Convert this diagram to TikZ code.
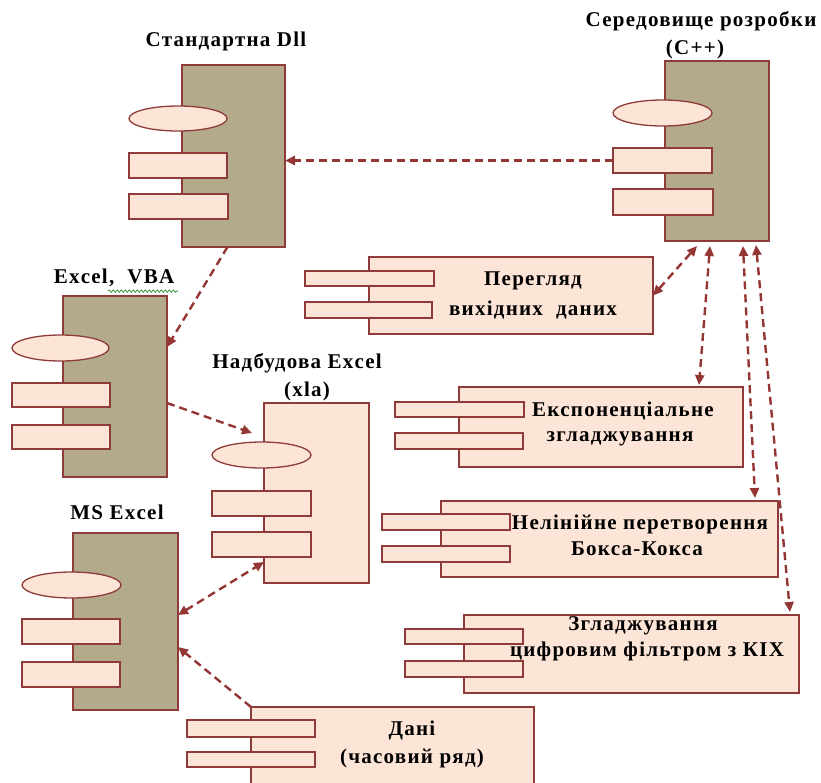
\documentclass[tikz,border=0pt]{standalone}
\usepackage{fontspec}
\setmainfont{Liberation Serif}
\usetikzlibrary{shapes.geometric,arrows.meta,decorations.pathmorphing}
\definecolor{edgec}{HTML}{8E3B3A}
\definecolor{olivef}{HTML}{B3A98B}
\definecolor{pinkf}{HTML}{FCE4D6}
\definecolor{arrc}{HTML}{943634}
\definecolor{spellc}{HTML}{3C9A3C}
\begin{document}
\begin{tikzpicture}[x=1pt,y=-1pt,
  body/.style={draw=edgec, line width=1.3pt, fill=olivef, inner sep=0pt, outer sep=0pt, rectangle},
  pbody/.style={body, fill=pinkf},
  port/.style={draw=edgec, line width=1.3pt, fill=pinkf, inner sep=0pt, outer sep=0pt, rectangle},
  eport/.style={port, ellipse},
  lbl/.style={font=\fontsize{21}{25}\selectfont\bfseries\addfontfeatures{LetterSpace=6}, inner sep=0pt, text=black},
  dep/.style={draw=arrc, line width=2.4pt, dash pattern=on 8pt off 5pt, -{Triangle[length=10pt,width=9pt]}},
  dep2/.style={dep, {Triangle[length=10pt,width=9pt]}-{Triangle[length=10pt,width=9pt]}},
]
\useasboundingbox (0,0) rectangle (821,782);

% Стандартна Dll
\node[body, minimum width=103pt, minimum height=182pt] (dll) at (233.5,156) {};
\node[eport, minimum width=98pt, minimum height=25pt] (dll-e) at (178,118.5) {};
\node[port, minimum width=98pt, minimum height=25pt] (dll-r1) at (178,165.5) {};
\node[port, minimum width=99pt, minimum height=25pt] (dll-r2) at (178.5,206.5) {};
\node[lbl] (dllT) at (226,41) {Стандартна Dll};

% Середовище розробки (C++)
\node[body, minimum width=104pt, minimum height=180pt] (cxx) at (717,151) {};
\node[eport, minimum width=99pt, minimum height=26pt] (cxx-e) at (662.5,113) {};
\node[port, minimum width=99pt, minimum height=25pt] (cxx-r1) at (662.5,160.5) {};
\node[port, minimum width=100pt, minimum height=26pt] (cxx-r2) at (663,202) {};
\node[lbl] (cxxT1) at (701,21) {Середовище розробки};
\node[lbl] (cxxT2) at (695,49) {(C++)};

% Excel, VBA
\node[body, minimum width=104pt, minimum height=181pt] (vba) at (115,386.5) {};
\node[eport, minimum width=97pt, minimum height=26pt] (vba-e) at (60.5,348) {};
\node[port, minimum width=98pt, minimum height=24pt] (vba-r1) at (61,395) {};
\node[port, minimum width=98pt, minimum height=24pt] (vba-r2) at (61,437) {};
\node[lbl] (vbaT) at (114,278) {Excel,\ \ VBA};
\draw[spellc, line width=0.8pt, decorate, decoration={snake, amplitude=1.2pt, segment length=4pt}] (vbaT.south) ++(-6,4) -- ++(70,0);

% Надбудова Excel (xla)
\node[pbody, minimum width=105pt, minimum height=180pt] (xla) at (316.5,493) {};
\node[eport, minimum width=99pt, minimum height=26pt] (xla-e) at (261.5,455) {};
\node[port, minimum width=99pt, minimum height=25pt] (xla-r1) at (261.5,503.5) {};
\node[port, minimum width=99pt, minimum height=25pt] (xla-r2) at (261.5,544.5) {};
\node[lbl] (xlaT1) at (297,363) {Надбудова Excel};
\node[lbl] (xlaT2) at (307,391) {(xla)};

% MS Excel
\node[body, minimum width=105pt, minimum height=177pt] (ms) at (125.5,621.5) {};
\node[eport, minimum width=99pt, minimum height=26pt] (ms-e) at (71.5,585) {};
\node[port, minimum width=98pt, minimum height=25pt] (ms-r1) at (71,631.5) {};
\node[port, minimum width=98pt, minimum height=25pt] (ms-r2) at (71,674.5) {};
\node[lbl] (msT) at (117,512) {MS Excel};

% Перегляд вихідних даних
\node[pbody, minimum width=284pt, minimum height=77pt] (per) at (511,295.5) {};
\node[port, minimum width=129pt, minimum height=15pt] (per-r1) at (369.5,278.5) {};
\node[port, minimum width=127pt, minimum height=16pt] (per-r2) at (368.5,310) {};
\node[lbl] (perT1) at (533,281) {Перегляд};
\node[lbl] (perT2) at (533,310) {вихідних\ \ даних};

% Експоненціальне згладжування
\node[pbody, minimum width=284pt, minimum height=80pt] (exp) at (601,427) {};
\node[port, minimum width=129pt, minimum height=15pt] (exp-r1) at (459.5,409.5) {};
\node[port, minimum width=128pt, minimum height=16pt] (exp-r2) at (459,441) {};
\node[lbl] (expT1) at (623,411) {Експоненціальне};
\node[lbl] (expT2) at (620,439) {згладжування};

% Нелінійне перетворення Бокса-Кокса
\node[pbody, minimum width=337pt, minimum height=76pt] (nel) at (609.5,539) {};
\node[port, minimum width=128pt, minimum height=16pt] (nel-r1) at (446,522) {};
\node[port, minimum width=128pt, minimum height=16pt] (nel-r2) at (446,554) {};
\node[lbl] (nelT1) at (640,524) {Нелінійне перетворення};
\node[lbl] (nelT2) at (637,549) {Бокса-Кокса};

% Згладжування цифровим фільтром з КІХ
\node[pbody, minimum width=335pt, minimum height=78pt] (zg) at (631.5,654) {};
\node[port, minimum width=118pt, minimum height=15pt] (zg-r1) at (464,636.5) {};
\node[port, minimum width=118pt, minimum height=16pt] (zg-r2) at (464,669) {};
\node[lbl] (zgT1) at (643,626) {Згладжування};
\node[lbl] (zgT2) at (647,651) {цифровим фільтром з КІХ};

% Дані (часовий ряд)
\node[pbody, minimum width=283pt, minimum height=83pt] (dat) at (392.5,748.5) {};
\node[port, minimum width=128pt, minimum height=17pt] (dat-r1) at (251,728.5) {};
\node[port, minimum width=128pt, minimum height=15pt] (dat-r2) at (251,759.5) {};
\node[lbl] (datT1) at (412,730) {Дані};
\node[lbl] (datT2) at (412,758) {(часовий ряд)};

% connectors
\draw[dep] (cxx-r1.west) -- (cxx-r1.west -| dll.east);
\draw[dep] ([xshift=-6pt]dll.south) -- ([yshift=39.5pt]vba.east);
\draw[dep] ([yshift=-16.5pt]vba.east) -- ([xshift=-12pt,yshift=60pt]xla.west);
\draw[dep2] ([yshift=6.5pt]ms.east) -- ([yshift=21pt]xla.south west);
\draw[dep] (dat.north west) -- ([yshift=-25.5pt]ms.east);
\draw[dep2] (per.east) -- ([xshift=-20pt,yshift=-5pt]cxx.south);
\draw[dep2] ([xshift=-7pt,yshift=-5pt]cxx.south) -- ([xshift=98pt,yshift=2pt]exp.north);
\draw[dep2] ([xshift=26pt,yshift=-5pt]cxx.south) -- ([xshift=145.5pt,yshift=3pt]nel.north);
\draw[dep2] ([xshift=39pt,yshift=-4pt]cxx.south) -- ([xshift=158.5pt,yshift=3pt]zg.north);
\end{tikzpicture}
\end{document}
